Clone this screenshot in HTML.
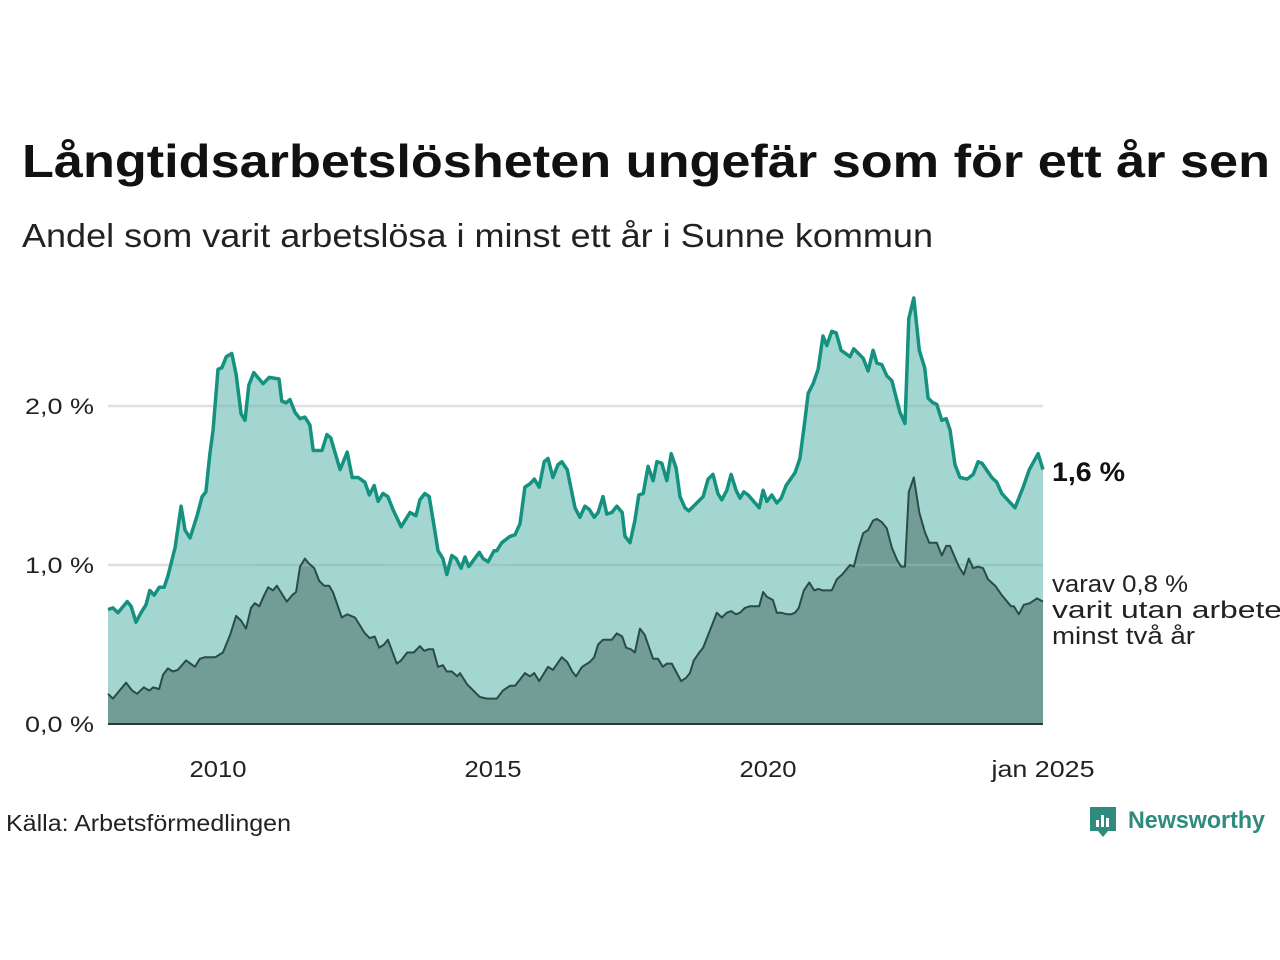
<!DOCTYPE html>
<html><head><meta charset="utf-8">
<style>
html,body{margin:0;padding:0;background:#fff;}
body{width:1280px;height:960px;overflow:hidden;position:relative;font-family:"Liberation Sans",sans-serif;}
svg{position:absolute;left:0;top:0;}
</style></head>
<body>
<svg width="1280" height="960">
<defs><clipPath id="areaClip"><path id="clipPath" d=""/></clipPath></defs>
<text x="22" y="177" font-size="46" font-weight="bold" fill="#111" textLength="1248" lengthAdjust="spacingAndGlyphs">Långtidsarbetslösheten ungefär som för ett år sen</text>
<text x="22" y="247" font-size="33" fill="#222" textLength="911" lengthAdjust="spacingAndGlyphs">Andel som varit arbetslösa i minst ett år i Sunne kommun</text>
<g id="grid"></g>
<g id="areas"></g>
<g id="axes"></g>
<text x="1052" y="481" font-size="27" font-weight="bold" fill="#111" textLength="73" lengthAdjust="spacingAndGlyphs">1,6 %</text>
<g font-size="24" fill="#222">
<text x="1052" y="592" textLength="136" lengthAdjust="spacingAndGlyphs">varav 0,8 %</text>
<text x="1052" y="618" textLength="230" lengthAdjust="spacingAndGlyphs">varit utan arbete</text>
<text x="1052" y="644" textLength="143" lengthAdjust="spacingAndGlyphs">minst två år</text></g>
<text x="6" y="831" font-size="23" fill="#222" textLength="285" lengthAdjust="spacingAndGlyphs">Källa: Arbetsförmedlingen</text>
<g>
<path d="M1090 807 h26 v24 h-8 l-5 6 l-5 -6 h-8 z" fill="#2e8b7e"/>
<rect x="1096" y="820" width="3" height="7" fill="#fff"/><rect x="1101" y="815" width="3" height="12" fill="#fff"/><rect x="1106" y="818" width="3" height="9" fill="#fff"/>
<text x="1128" y="828" font-size="24" font-weight="bold" fill="#2e8b7e" textLength="137" lengthAdjust="spacingAndGlyphs">Newsworthy</text>
</g>
</svg>
<script>
const totalYears=[2008.00,2008.09,2008.18,2008.35,2008.42,2008.51,2008.60,2008.69,2008.76,2008.84,2008.93,2009.02,2009.09,2009.22,2009.33,2009.40,2009.49,2009.62,2009.71,2009.78,2009.85,2009.91,2010.00,2010.07,2010.15,2010.25,2010.33,2010.42,2010.49,2010.56,2010.65,2010.82,2010.93,2011.11,2011.16,2011.24,2011.31,2011.40,2011.49,2011.58,2011.67,2011.73,2011.89,2011.98,2012.05,2012.15,2012.22,2012.35,2012.44,2012.55,2012.67,2012.75,2012.84,2012.91,2013.00,2013.09,2013.18,2013.33,2013.49,2013.60,2013.67,2013.76,2013.84,2013.93,2014.00,2014.09,2014.16,2014.25,2014.33,2014.42,2014.49,2014.56,2014.75,2014.82,2014.91,2015.02,2015.07,2015.16,2015.31,2015.40,2015.49,2015.58,2015.67,2015.75,2015.84,2015.93,2016.00,2016.09,2016.18,2016.25,2016.35,2016.49,2016.58,2016.67,2016.75,2016.84,2016.91,2017.00,2017.07,2017.16,2017.25,2017.35,2017.40,2017.49,2017.58,2017.65,2017.73,2017.82,2017.91,2017.98,2018.07,2018.16,2018.24,2018.33,2018.40,2018.49,2018.56,2018.82,2018.91,2019.00,2019.09,2019.16,2019.25,2019.33,2019.42,2019.49,2019.56,2019.64,2019.84,2019.91,2019.98,2020.07,2020.16,2020.24,2020.33,2020.49,2020.58,2020.67,2020.73,2020.82,2020.91,2021.00,2021.07,2021.16,2021.24,2021.33,2021.49,2021.56,2021.73,2021.82,2021.91,2021.98,2022.07,2022.16,2022.25,2022.40,2022.49,2022.56,2022.65,2022.75,2022.85,2022.91,2023.00,2023.07,2023.16,2023.24,2023.31,2023.40,2023.49,2023.62,2023.73,2023.82,2023.89,2024.07,2024.16,2024.25,2024.49,2024.64,2024.75,2024.91,2025.00];
const totalValues=[0.72,0.73,0.70,0.77,0.74,0.64,0.70,0.75,0.84,0.81,0.86,0.86,0.93,1.11,1.37,1.22,1.17,1.31,1.43,1.46,1.69,1.85,2.23,2.24,2.31,2.33,2.20,1.95,1.91,2.13,2.21,2.14,2.18,2.17,2.03,2.02,2.04,1.96,1.92,1.93,1.88,1.72,1.72,1.82,1.80,1.68,1.60,1.71,1.55,1.55,1.52,1.44,1.50,1.40,1.45,1.43,1.35,1.24,1.33,1.31,1.41,1.45,1.43,1.24,1.09,1.04,0.94,1.06,1.04,0.98,1.05,0.99,1.08,1.04,1.02,1.09,1.09,1.14,1.18,1.19,1.26,1.49,1.51,1.54,1.49,1.65,1.67,1.55,1.63,1.65,1.60,1.36,1.30,1.37,1.35,1.30,1.33,1.43,1.32,1.33,1.37,1.33,1.18,1.14,1.28,1.44,1.45,1.62,1.53,1.65,1.64,1.53,1.70,1.61,1.43,1.36,1.34,1.43,1.54,1.57,1.45,1.41,1.47,1.57,1.47,1.42,1.46,1.44,1.36,1.47,1.40,1.44,1.39,1.42,1.50,1.58,1.67,1.91,2.08,2.14,2.23,2.44,2.38,2.47,2.46,2.35,2.31,2.36,2.30,2.22,2.35,2.27,2.26,2.19,2.16,1.96,1.89,2.55,2.68,2.35,2.24,2.05,2.02,2.01,1.91,1.92,1.85,1.63,1.55,1.54,1.57,1.65,1.64,1.55,1.52,1.45,1.36,1.49,1.60,1.70,1.60];
const longYears=[2008.00,2008.09,2008.33,2008.44,2008.53,2008.65,2008.75,2008.82,2008.93,2009.00,2009.09,2009.18,2009.27,2009.42,2009.58,2009.67,2009.76,2009.95,2010.09,2010.22,2010.33,2010.42,2010.51,2010.60,2010.67,2010.75,2010.84,2010.91,2011.00,2011.07,2011.25,2011.35,2011.42,2011.49,2011.58,2011.65,2011.75,2011.84,2011.93,2012.02,2012.09,2012.25,2012.35,2012.49,2012.67,2012.76,2012.85,2012.93,2013.02,2013.09,2013.25,2013.33,2013.44,2013.56,2013.67,2013.75,2013.82,2013.91,2014.00,2014.09,2014.16,2014.25,2014.35,2014.40,2014.53,2014.76,2014.89,2015.07,2015.18,2015.31,2015.40,2015.49,2015.58,2015.67,2015.75,2015.84,2016.00,2016.09,2016.25,2016.35,2016.44,2016.51,2016.62,2016.76,2016.84,2016.91,2017.00,2017.16,2017.25,2017.35,2017.42,2017.51,2017.58,2017.67,2017.76,2017.84,2017.91,2018.00,2018.09,2018.16,2018.25,2018.42,2018.51,2018.58,2018.65,2018.75,2018.82,2018.98,2019.07,2019.16,2019.25,2019.33,2019.42,2019.49,2019.58,2019.67,2019.84,2019.91,2019.98,2020.09,2020.16,2020.24,2020.35,2020.42,2020.49,2020.56,2020.65,2020.75,2020.84,2020.91,2021.00,2021.16,2021.25,2021.35,2021.49,2021.56,2021.65,2021.73,2021.82,2021.91,2021.98,2022.07,2022.16,2022.25,2022.35,2022.42,2022.49,2022.56,2022.65,2022.75,2022.85,2022.93,2023.07,2023.16,2023.24,2023.31,2023.47,2023.56,2023.65,2023.73,2023.82,2023.91,2024.00,2024.13,2024.25,2024.42,2024.47,2024.56,2024.65,2024.76,2024.89,2025.00];
const longValues=[0.19,0.16,0.26,0.21,0.19,0.23,0.21,0.23,0.22,0.31,0.35,0.33,0.34,0.40,0.36,0.41,0.42,0.42,0.45,0.56,0.68,0.65,0.60,0.73,0.76,0.74,0.81,0.86,0.84,0.87,0.77,0.81,0.83,0.99,1.04,1.01,0.98,0.90,0.87,0.87,0.83,0.67,0.69,0.67,0.57,0.54,0.55,0.48,0.50,0.53,0.38,0.40,0.45,0.45,0.49,0.46,0.47,0.47,0.36,0.37,0.33,0.33,0.30,0.32,0.25,0.17,0.16,0.16,0.21,0.24,0.24,0.28,0.32,0.30,0.32,0.27,0.36,0.34,0.42,0.39,0.33,0.30,0.36,0.39,0.42,0.50,0.53,0.53,0.57,0.55,0.48,0.47,0.45,0.60,0.56,0.48,0.41,0.41,0.36,0.38,0.38,0.27,0.29,0.32,0.40,0.45,0.48,0.62,0.70,0.67,0.70,0.71,0.69,0.70,0.73,0.74,0.74,0.83,0.80,0.78,0.70,0.70,0.69,0.69,0.70,0.73,0.84,0.89,0.84,0.85,0.84,0.84,0.91,0.94,1.00,0.99,1.11,1.20,1.22,1.28,1.29,1.27,1.23,1.11,1.03,0.99,0.99,1.46,1.55,1.33,1.21,1.14,1.14,1.06,1.12,1.12,0.99,0.94,1.04,0.98,0.99,0.98,0.91,0.87,0.81,0.74,0.74,0.69,0.75,0.76,0.79,0.77];
const yTicks=[0,1,2];
const yTickLabels=["0,0 %","1,0 %","2,0 %"];
const xTicks=[2010,2015,2020,2025];
const xTickLabels=["2010","2015","2020","jan 2025"];

const X=y=>108+(y-2008)*55;
const Y=v=>724-v*159;
const NS="http://www.w3.org/2000/svg";
function mk(tag,attrs,parent){const e=document.createElementNS(NS,tag);for(const k in attrs)e.setAttribute(k,attrs[k]);parent.appendChild(e);return e;}
const grid=document.getElementById('grid'),areas=document.getElementById('areas'),axes=document.getElementById('axes');

yTicks.forEach((t,i)=>{
  if(t>0){const l=mk('line',{x1:108,x2:1043,y1:Y(t),y2:Y(t),stroke:'#e0e0e4','stroke-width':2.5},grid);
  
  }
  const tx=mk('text',{x:94,y:Y(t)+8,'text-anchor':'end','font-size':22,fill:'#222',textLength:69,lengthAdjust:'spacingAndGlyphs'},axes);
  tx.textContent=yTickLabels[i];
  
  
});
xTicks.forEach((t,i)=>{
  const w=xTickLabels[i].length>4?103:57;
  const tx=mk('text',{x:X(t),y:777,'text-anchor':'middle','font-size':23,fill:'#222',textLength:w,lengthAdjust:'spacingAndGlyphs'},axes);
  tx.textContent=xTickLabels[i];
  
  
});
function linePts(xs,vs){return xs.map((x,i)=>X(x).toFixed(1)+','+Y(vs[i]).toFixed(1)).join(' ');}
function areaD(xs,vs){return 'M'+X(xs[0])+','+Y(0)+' L'+linePts(xs,vs).split(' ').join(' L')+' L'+X(xs[xs.length-1])+','+Y(0)+'Z';}

const totalD=areaD(totalYears,totalValues);
document.getElementById('clipPath').setAttribute('d',totalD);
const a1=mk('path',{d:totalD,fill:'#a4d6d1'},areas);


const a2=mk('path',{d:areaD(longYears,longValues),fill:'#729d97'},areas);


yTicks.forEach(t=>{if(t>0){const l=mk('line',{x1:108,x2:1043,y1:Y(t),y2:Y(t),stroke:'#8fb8b3','stroke-width':2.5,opacity:0.5,'clip-path':'url(#areaClip)'},areas);

}});
const l1=mk('polyline',{points:linePts(totalYears,totalValues),fill:'none',stroke:'#15917f','stroke-width':3.5,'stroke-linejoin':'round'},areas);


const l2=mk('polyline',{points:linePts(longYears,longValues),fill:'none',stroke:'#2a4b46','stroke-width':2,'stroke-linejoin':'round'},areas);


const base=mk('line',{x1:108,x2:1043,y1:724,y2:724,stroke:'#333','stroke-width':2},axes);


</script>
</body></html>
